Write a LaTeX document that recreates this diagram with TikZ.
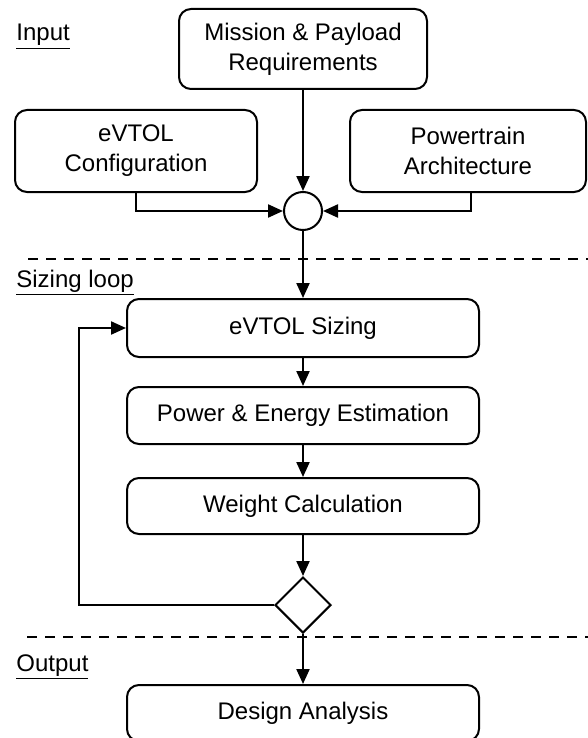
\documentclass[tikz,border=0pt]{standalone}
\usepackage{fontspec}
\setmainfont{Liberation Sans}
\usetikzlibrary{arrows.meta,shapes.geometric}

\begin{document}
\begin{tikzpicture}[x=0.5pt, y=-0.5pt,
    font=\fontsize{12}{15}\selectfont,
    box/.style={draw, line width=1pt, rounded corners=6pt, align=center, inner sep=0pt},
    flow/.style={-{Triangle[length=7.5pt,width=6.5pt]}, line width=1.1pt},
    divider/.style={line width=1pt, dash pattern=on 5pt off 4pt},
    section/.style={anchor=base west, inner sep=0pt}]

\useasboundingbox (0,0) rectangle (588,738);

% Secoes
\node[section] (lblin) at (16,41) {\underline{Input}};
\node[section] (lblloop) at (16,287) {\underline{Sizing loop}};
\node[section] (lblout) at (16,671) {\underline{Output}};

\draw[divider] (28,259) -- (588,259);
\draw[divider] (27,637) -- (588,637);

% Entradas
\node[box, minimum width=124pt, minimum height=40pt] (req) at (303,49) {Mission \& Payload\\Requirements};
\node[box, minimum width=121pt, minimum height=41pt] (config) at (136,151) {eVTOL\\Configuration};
\node[box, minimum width=118pt, minimum height=41pt] (arch) at (468,151) {Powertrain\\Architecture};
\node[draw, circle, line width=1pt, minimum size=19pt, inner sep=0pt] (join) at (303,211) {};

\draw[flow] (req) -- (join);
\draw[flow] (config.south) |- (join.west);
\draw[flow] ([xshift=1.5pt]arch.south) |- (join.east);

% Loop de dimensionamento
\node[box, minimum width=176pt, minimum height=29pt] (sizing) at (303,328) {eVTOL Sizing};
\node[box, minimum width=176pt, minimum height=28.5pt] (power) at (303,415.5) {Power \& Energy Estimation};
\node[box, minimum width=176pt, minimum height=28pt] (weight) at (303,506) {Weight Calculation};
\node[draw, diamond, line width=1pt, minimum width=28pt, minimum height=28pt, inner sep=0pt] (check) at (303,605) {};

\draw[flow] (join) -- (sizing);
\foreach \a/\b in {sizing/power, power/weight, weight/check}{
    \draw[flow] (\a) -- (\b);
}

% Retorno
\coordinate (back) at (79,605);
\draw[flow] (check.west) -- (back) |- (sizing.west);

% Saida
\node[box, minimum width=176pt, minimum height=28pt] (design) at (303,713) {Design Analysis};
\draw[flow] (check) -- (design);

\end{tikzpicture}
\end{document}
